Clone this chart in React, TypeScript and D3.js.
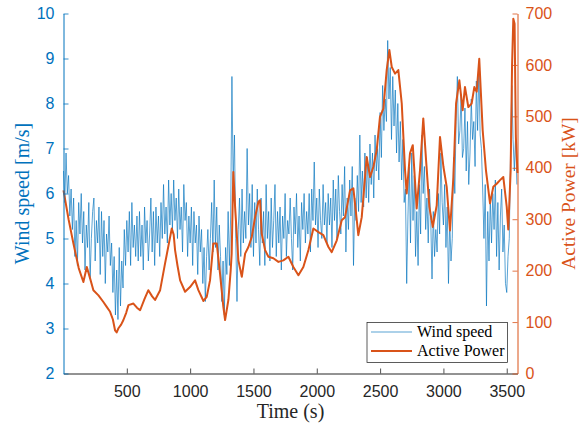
import React, { useRef, useEffect } from "react";
import * as d3 from "d3";

// wind speed sampled every 10 s, m/s
const windStep = 10;
const windSpeed = [
  6.5, 5.8, 6.9, 6.0, 6.4, 5.5, 6.1, 5.2, 5.9, 4.6, 5.4, 4.4, 5.8, 5.1, 6.0, 4.9, 5.6, 4.3, 5.3, 4.8, 5.8, 4.1, 5.0, 5.6, 5.9, 4.5, 5.4, 4.9, 5.7, 4.2,
  5.6, 4.6, 5.4, 4.0, 5.1, 4.7, 5.5, 4.4, 4.9, 3.8, 4.6, 3.3, 4.3, 3.2, 4.8, 3.5, 4.5, 3.9, 5.2, 4.4, 5.4, 4.7, 5.6, 4.4, 5.8, 4.8, 5.3, 4.6, 5.5, 4.5,
  5.6, 4.6, 5.3, 4.3, 5.7, 4.9, 5.4, 4.5, 5.1, 5.9, 4.7, 5.6, 4.4, 5.7, 4.9, 5.5, 4.6, 5.8, 5.0, 6.2, 5.1, 5.7, 4.9, 6.3, 5.3, 6.0, 5.2, 6.3, 5.4, 5.9,
  5.0, 6.1, 5.2, 5.7, 4.7, 6.2, 5.4, 5.8, 4.6, 5.5, 4.9, 5.7, 4.4, 5.6, 4.9, 5.3, 4.2, 5.5, 4.7, 5.2, 4.0, 4.8, 3.6, 4.6, 5.2, 4.3, 5.0, 5.8, 4.7, 6.3,
  4.8, 5.7, 4.3, 5.3, 4.6, 3.6, 4.5, 3.3, 4.8, 4.2, 5.6, 4.4, 5.5, 8.6, 6.2, 7.3, 5.0, 3.6, 5.2, 5.9, 4.6, 6.1, 4.9, 5.6, 5.0, 7.0, 5.3, 6.0, 4.8, 6.2,
  4.6, 5.8, 4.9, 6.1, 5.2, 4.4, 5.9, 4.9, 5.6, 4.4, 6.2, 5.0, 5.6, 4.5, 5.9, 4.8, 5.4, 6.2, 4.6, 5.6, 4.9, 5.7, 4.3, 5.5, 5.0, 6.0, 4.6, 5.4, 5.1, 5.9,
  5.0, 4.3, 5.7, 5.1, 6.0, 4.8, 5.5, 4.5, 5.8, 5.2, 6.0, 4.9, 5.6, 5.1, 6.0, 4.7, 6.1, 5.4, 6.7, 5.3, 5.9, 4.8, 6.1, 5.4, 5.0, 6.2, 5.3, 5.8, 4.9, 6.0,
  5.3, 5.9, 4.8, 6.3, 5.4, 6.1, 5.0, 6.4, 5.6, 5.1, 6.2, 5.5, 6.6, 4.7, 5.9, 5.2, 6.3, 5.5, 6.6, 4.4, 5.9, 5.4, 6.4, 5.6, 7.3, 5.8, 6.5, 5.7, 6.9, 5.9,
  6.8, 5.8, 7.1, 6.2, 6.9, 5.9, 7.3, 6.5, 7.0, 6.3, 7.8, 6.8, 8.4, 7.4, 8.1, 7.6, 9.4, 8.1, 8.8, 7.2, 8.6, 7.5, 8.3, 6.9, 8.0, 6.7, 7.6, 6.3, 7.2, 5.8,
  6.1, 4.0, 5.5, 6.6, 4.9, 6.9, 5.4, 6.4, 4.6, 5.6, 4.4, 6.2, 5.1, 7.3, 6.0, 6.6, 5.2, 5.9, 4.9, 6.1, 5.4, 4.1, 5.6, 4.6, 5.2, 4.7, 6.0, 5.1, 6.9, 5.8,
  5.3, 6.2, 4.8, 5.7, 4.0, 5.4, 4.5, 5.0, 6.8, 6.0, 7.6, 8.6, 7.1, 7.4, 8.2, 6.8, 7.0, 7.9, 6.5, 7.6, 6.2, 6.9, 8.1, 7.2, 7.6, 6.6, 8.5, 7.4, 8.8, 7.3,
  7.0, 6.1, 5.0, 6.2, 3.5, 5.6, 4.5, 5.9, 4.9, 6.0, 5.2, 6.3, 4.6, 5.8, 4.3, 5.5, 6.1, 4.7, 5.3, 4.0, 3.8, 4.6, 5.0, 6.9, 8.4, 7.2, 6.5, 7.3, 6.2,
];

// active power, time (s) and kW
const powerTime = [
  0, 40, 78, 120, 157, 184, 210, 236, 276, 315, 340, 368, 390, 407, 420, 434, 455, 473, 495, 513,
  552, 580, 605, 640, 670, 700, 723, 763, 802, 830, 855, 870, 881, 900, 921, 960, 999, 1039, 1065, 1105,
  1131, 1157, 1183, 1210, 1236, 1262, 1276, 1302, 1320, 1328, 1341, 1355, 1381, 1408, 1434, 1460, 1487, 1513, 1539, 1552,
  1565, 1592, 1618, 1657, 1697, 1736, 1776, 1815, 1855, 1894, 1934, 1973, 2013, 2052, 2092, 2118, 2158, 2197, 2223, 2263,
  2289, 2316, 2328, 2355, 2394, 2421, 2447, 2473, 2499, 2526, 2552, 2573, 2592, 2618, 2644, 2671, 2697, 2710, 2736, 2758,
  2789, 2815, 2841, 2863, 2889, 2916, 2947, 2973, 3000, 3026, 3052, 3079, 3100, 3126, 3152, 3170, 3197, 3223, 3244, 3263,
  3283, 3310, 3336, 3368, 3394, 3421, 3447, 3473, 3500, 3512, 3531, 3542, 3552, 3562, 3572, 3585,
];
const powerKW = [
  356, 300, 253, 205, 178, 207, 185, 162, 152, 139, 130, 120, 105, 84, 80, 88, 95, 104, 118, 133,
  136, 128, 123, 145, 162, 150, 143, 162, 214, 250, 282, 270, 240, 210, 181, 159, 168, 181, 162, 141,
  149, 181, 253, 253, 194, 130, 104, 143, 200, 233, 392, 324, 220, 188, 233, 246, 266, 304, 334, 337,
  272, 240, 227, 224, 217, 220, 227, 207, 191, 207, 240, 282, 275, 269, 246, 236, 259, 298, 304, 356,
  360, 298, 269, 304, 421, 382, 402, 434, 499, 515, 590, 629, 596, 583, 590, 525, 395, 350, 428, 444,
  321, 395, 496, 415, 324, 285, 327, 460, 402, 363, 278, 382, 525, 570, 512, 557, 518, 525, 557, 548,
  612, 473, 395, 331, 363, 369, 376, 382, 324, 280, 395, 600, 690, 680, 460, 390,
];

const timeTicks = [500, 1000, 1500, 2000, 2500, 3000, 3500];
const windTicks = [2, 3, 4, 5, 6, 7, 8, 9, 10];
const powerTicks = [0, 100, 200, 300, 400, 500, 600, 700];

const BLUE = "#0072BD";
const ORANGE = "#D95319";
const DARK = "#262626";

function App() {
  const svgRef = useRef(null);

  useEffect(() => {
    document.body.style.margin = "0";
    const svg = d3.select(svgRef.current);
    svg.selectAll("*").remove();

    const left = 63.5, right = 517.5, top = 13.5, bottom = 373.5;
    const tickFont = "Liberation Sans, Arial, sans-serif";
    const labelFont = "Liberation Serif, Times New Roman, serif";

    const x = d3.scaleLinear().domain([0, 3585]).range([left, right]);
    const yW = d3.scaleLinear().domain([2, 10]).range([bottom, top]);
    const yP = d3.scaleLinear().domain([0, 700]).range([bottom, top]);

    // wind speed
    const windLine = d3
      .line()
      .x((d, i) => x(i * windStep))
      .y((d) => yW(d));
    svg
      .append("path")
      .datum(windSpeed)
      .attr("d", windLine)
      .attr("fill", "none")
      .attr("stroke", BLUE)
      .attr("stroke-opacity", 0.65)
      .attr("stroke-width", 1);

    // active power
    const powerLine = d3
      .line()
      .x((d, i) => x(powerTime[i]))
      .y((d) => yP(d));
    svg
      .append("path")
      .datum(powerKW)
      .attr("d", powerLine)
      .attr("fill", "none")
      .attr("stroke", ORANGE)
      .attr("stroke-width", 2)
      .attr("stroke-linejoin", "round");

    const styleAxis = (g, color) => {
      g.select(".domain").attr("stroke", color).attr("stroke-width", 1);
      g.selectAll(".tick line").attr("stroke", color).attr("stroke-width", 0.8);
      g.selectAll(".tick text")
        .attr("fill", color)
        .attr("font-family", tickFont)
        .attr("font-size", 16);
    };

    svg
      .append("g")
      .attr("transform", `translate(0,${bottom})`)
      .call(
        d3.axisBottom(x).tickValues(timeTicks).tickFormat(d3.format("d"))
          .tickSizeInner(-5).tickSizeOuter(0).tickPadding(12)
      )
      .call((g) => styleAxis(g, DARK));

    svg
      .append("g")
      .attr("transform", `translate(${left},0)`)
      .call(d3.axisLeft(yW).tickValues(windTicks).tickSizeInner(-5).tickSizeOuter(0).tickPadding(9))
      .call((g) => styleAxis(g, BLUE));

    svg
      .append("g")
      .attr("transform", `translate(${right},0)`)
      .call(d3.axisRight(yP).tickValues(powerTicks).tickSizeInner(-5).tickSizeOuter(0).tickPadding(8))
      .call((g) => styleAxis(g, ORANGE));

    // axis titles
    svg
      .append("text")
      .attr("x", (left + right) / 2)
      .attr("y", 417.5)
      .attr("text-anchor", "middle")
      .attr("font-family", labelFont)
      .attr("font-size", 20)
      .attr("fill", DARK)
      .text("Time (s)");

    svg
      .append("text")
      .attr("transform", `translate(29,${(top + bottom) / 2}) rotate(-90)`)
      .attr("text-anchor", "middle")
      .attr("font-family", labelFont)
      .attr("font-size", 20)
      .attr("fill", BLUE)
      .text("Wind speed [m/s]");

    svg
      .append("text")
      .attr("transform", `translate(575,${(top + bottom) / 2}) rotate(-90)`)
      .attr("text-anchor", "middle")
      .attr("font-family", labelFont)
      .attr("font-size", 19.5)
      .attr("fill", ORANGE)
      .text("Active Power [kW]");

    // legend
    const legend = svg.append("g");
    legend
      .append("rect")
      .attr("x", 367)
      .attr("y", 322.5)
      .attr("width", 140.5)
      .attr("height", 40)
      .attr("fill", "#fff")
      .attr("stroke", DARK)
      .attr("stroke-width", 0.75);
    const items = [
      { name: "Wind speed", color: BLUE, width: 1, opacity: 0.65, y: 332 },
      { name: "Active Power", color: ORANGE, width: 2, opacity: 1, y: 351 },
    ];
    items.forEach((d) => {
      legend
        .append("line")
        .attr("x1", 371)
        .attr("x2", 412)
        .attr("y1", d.y)
        .attr("y2", d.y)
        .attr("stroke", d.color)
        .attr("stroke-opacity", d.opacity)
        .attr("stroke-width", d.width);
      legend
        .append("text")
        .attr("x", 417)
        .attr("y", d.y + 4.5)
        .attr("font-family", labelFont)
        .attr("font-size", 16)
        .attr("fill", "#000")
        .text(d.name);
    });
  }, []);

  return <svg ref={svgRef} width={582} height={425} style={{ display: "block" }}></svg>;
}

export default App;
